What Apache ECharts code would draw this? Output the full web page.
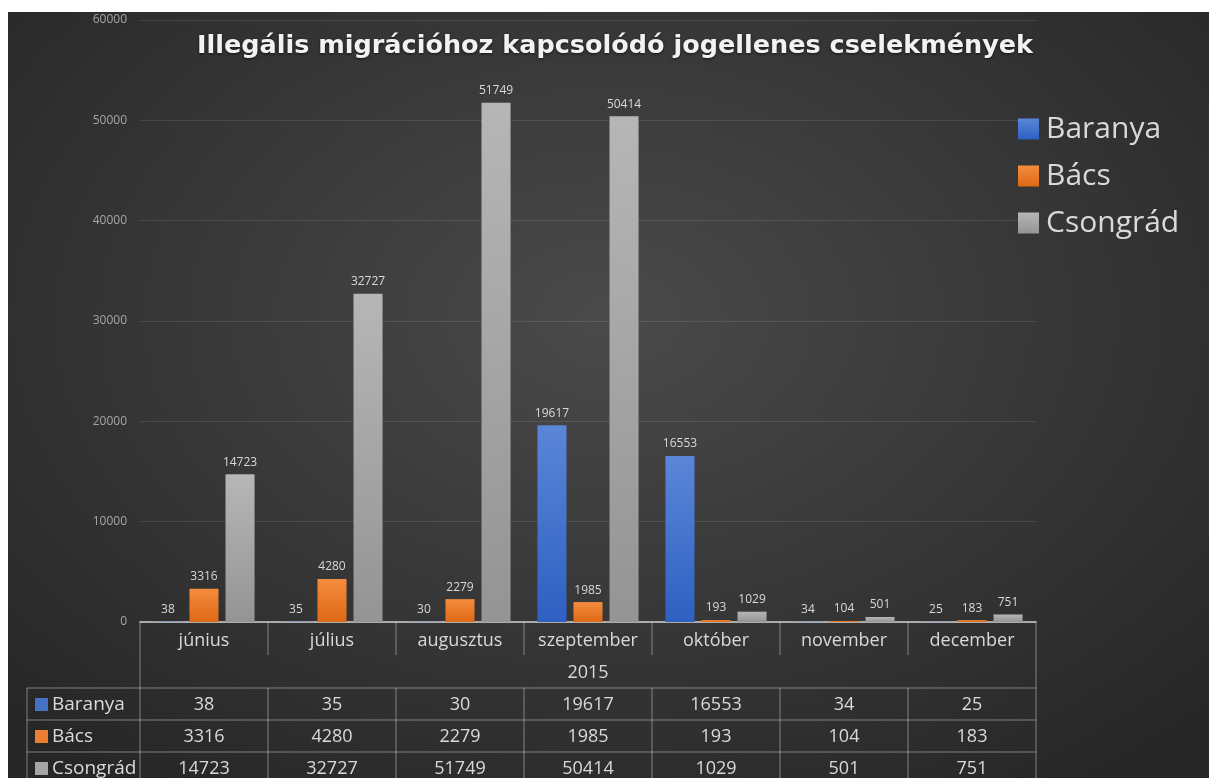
<!DOCTYPE html>
<html>
<head>
<meta charset="utf-8">
<script src="https://cdn.jsdelivr.net/npm/echarts@6/dist/echarts.min.js"></script>
<style>
  html, body { margin: 0; background: #fff; }
  #main {
    position: absolute; left: 8px; top: 12px; width: 1201px; height: 766px;
    background: radial-gradient(ellipse 70% 75% at 50% 40%, #4a4a4a 0%, #363636 55%, #262626 100%);
  }
</style>
</head>
<body>
<div id="main"></div>
<script>
// adatok
const months = ['június', 'július', 'augusztus', 'szeptember', 'október', 'november', 'december'];
const year = '2015';
const seriesNames = ['Baranya', 'Bács', 'Csongrád'];
const baranya = [38, 35, 30, 19617, 16553, 34, 25];
const bacs = [3316, 4280, 2279, 1985, 193, 104, 183];
const csongrad = [14723, 32727, 51749, 50414, 1029, 501, 751];
const chartTitle = 'Illegális migrációhoz kapcsolódó jogellenes cselekmények';

const values = [baranya, bacs, csongrad];
const colors = [
  ['#5b86d8', '#2e60c2'],
  ['#f58c3e', '#dd6915'],
  ['#b6b6b6', '#949494']
];
const flatColors = ['#4472c4', '#ed7d31', '#a5a5a5'];
const FONT = 'Open Sans';
const txt = '#d9d9d9';

var chartDom = document.getElementById('main');
var myChart = echarts.init(chartDom);

function grad(c) {
  return new echarts.graphic.LinearGradient(0, 0, 0, 1, [
    {offset: 0, color: c[0]}, {offset: 1, color: c[1]}
  ]);
}

var option = {
  backgroundColor: 'transparent',
  textStyle: {fontFamily: FONT},
  title: {
    text: chartTitle,
    left: 602,
    top: 16,
    textAlign: 'center',
    textStyle: {
      color: '#f2f2f2', fontSize: 25.5, fontWeight: 'bold', fontFamily: 'DejaVu Sans',
      textShadowColor: 'rgba(0,0,0,0.6)', textShadowBlur: 3, textShadowOffsetY: 1
    }
  },
  legend: {
    orient: 'vertical',
    left: 1005,
    top: 97,
    itemWidth: 21,
    itemHeight: 21,
    itemGap: 17,
    icon: 'rect',
    data: seriesNames,
    textStyle: {color: txt, fontSize: 30, fontFamily: FONT, padding: [0, 0, 0, 2]}
  },
  grid: {left: 132, right: 173, top: 8, bottom: 156, containLabel: false},
  xAxis: {
    type: 'category',
    data: months,
    axisLine: {lineStyle: {color: '#cfcfcf', width: 1.5}},
    axisTick: {show: false},
    axisLabel: {color: txt, fontSize: 18, fontFamily: FONT, margin: 10, interval: 0}
  },
  yAxis: {
    type: 'value',
    min: 0,
    max: 60000,
    interval: 10000,
    axisLine: {show: false},
    axisTick: {show: false},
    axisLabel: {
      color: '#a6a6a6', fontSize: 12, fontFamily: FONT, margin: 13,
      formatter: function (v) { return String(v); }
    },
    splitLine: {lineStyle: {color: 'rgba(255,255,255,0.1)'}}
  },
  series: seriesNames.map(function (name, i) {
    return {
      name: name,
      type: 'bar',
      data: values[i],
      barGap: '24%',
      barCategoryGap: '21%',
      itemStyle: {color: grad(colors[i])},
      label: {
        show: true, position: 'top', distance: 6,
        color: txt, fontSize: 12, fontFamily: FONT
      }
    };
  })
};

myChart.setOption(option);

// adattábla a tengely alatt
function buildTable() {
  var x0 = myChart.convertToPixel({xAxisIndex: 0}, 0);
  var x1 = myChart.convertToPixel({xAxisIndex: 0}, 1);
  var band = x1 - x0;
  var left = x0 - band / 2;
  var right = left + band * months.length;
  var y0 = myChart.convertToPixel({yAxisIndex: 0}, 0);
  var rowH = [33, 33, 32, 32, 32];
  var rowTop = [y0];
  for (var r = 0; r < rowH.length; r++) rowTop.push(rowTop[r] + rowH[r]);
  var nameLeft = 19;
  var lineCol = 'rgba(200,200,200,0.55)';
  var els = [];

  function line(xa, ya, xb, yb) {
    els.push({type: 'line', shape: {x1: xa, y1: ya, x2: xb, y2: yb}, style: {stroke: lineCol, lineWidth: 1}, silent: true});
  }
  function text(str, x, y, align, size) {
    els.push({type: 'text', x: x, y: y, style: {text: str, fill: txt, font: size + 'px "' + FONT + '"', align: align, verticalAlign: 'middle'}, silent: true});
  }

  // külső függőleges vonalak
  line(left, y0, left, 780);
  line(right, y0, right, 780);
  line(nameLeft, rowTop[2], nameLeft, 780);
  // hónap elválasztók
  for (var c = 1; c < months.length; c++) {
    var xc = left + band * c;
    line(xc, y0, xc, rowTop[1]);
    line(xc, rowTop[2], xc, 780);
  }
  // vízszintes vonalak
  for (var k = 2; k <= 4; k++) line(nameLeft, rowTop[k], right, rowTop[k]);

  text(year, (left + right) / 2, (rowTop[1] + rowTop[2]) / 2 + 1, 'center', 18);

  for (var s = 0; s < seriesNames.length; s++) {
    var yc = (rowTop[2 + s] + rowTop[3 + s]) / 2 + 1;
    els.push({type: 'rect', shape: {x: 27, y: yc - 7, width: 13, height: 13}, style: {fill: flatColors[s]}, silent: true});
    text(seriesNames[s], 44, yc, 'left', 19);
    for (var m = 0; m < months.length; m++) {
      text(String(values[s][m]), left + band * (m + 0.5), yc, 'center', 18);
    }
  }
  myChart.setOption({graphic: {elements: els}});
}
buildTable();
</script>
</body>
</html>
